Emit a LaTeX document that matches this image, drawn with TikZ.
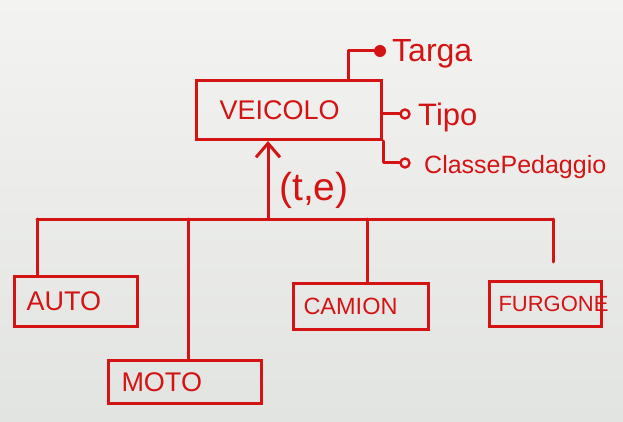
\documentclass[tikz,border=0pt]{standalone}
\usepackage{fontspec}
\setmainfont{Liberation Sans}
\usetikzlibrary{arrows.meta}
\definecolor{ink}{HTML}{D41414}
\definecolor{bgtop}{HTML}{F3F3F1}
\definecolor{bgbot}{HTML}{E2E4E2}
\newcommand{\fs}[1]{\fontsize{#1}{#1}\selectfont}
\begin{document}
\begin{tikzpicture}[x=1pt,y=-1pt,
  ln/.style={draw=ink, line width=3pt, line cap=round, line join=round},
  ent/.style={draw=ink, line width=3pt, rectangle, inner ysep=0pt, inner xsep=12pt,
              anchor=north west, align=left, text=ink},
  lbl/.style={text=ink, inner sep=0pt, anchor=west},
  odot/.style={circle, draw=ink, line width=2.4pt, inner sep=0pt, minimum size=9pt},
  fdot/.style={circle, fill=ink, inner sep=0pt, minimum size=12pt},
]
\shade[top color=bgtop, bottom color=bgbot] (0,0) rectangle (623,422);
\useasboundingbox (0,0) rectangle (623,422);

% entities
\node[ent, minimum width=185pt, minimum height=59pt, text width=139pt, inner xsep=23pt, font=\fs{27}] (veicolo) at (195,79) {VEICOLO};
\node[ent, minimum width=123pt, minimum height=50pt, text width=99pt, font=\fs{27}] (auto) at (13,275) {AUTO};
\node[ent, minimum width=151pt, minimum height=43pt, text width=127pt, inner xsep=13pt, font=\fs{27}] (moto) at (107,359) {MOTO};
\node[ent, minimum width=135pt, minimum height=46pt, text width=115pt, inner xsep=10pt, font=\fs{23.5}] (camion) at (292,282) {CAMION};
\node[ent, minimum width=112pt, minimum height=45pt, text width=94pt, inner xsep=9pt, font=\fs{22}] (furgone) at (488,280) {FURGONE};

% attributes
\node[fdot] (dtarga) at (380,51) {};
\node[lbl, font=\fs{32}] (targa) at (392,54) {Targa};
\node[odot] (otipo) at (405,114) {};
\node[lbl, font=\fs{31}] (tipo) at (418,117) {Tipo};
\node[odot] (ocl) at (405,163) {};
\node[lbl, font=\fs{25}] (classe) at (424,167) {ClassePedaggio};

\coordinate (kt) at (348,51);
\draw[ln] (kt |- veicolo.north) -- (kt) -- (dtarga);
\draw[ln] (veicolo.east |- otipo) -- (otipo);
\draw[ln] (veicolo.south east) -- (veicolo.south east |- ocl) -- (ocl);

% generalization
\coordinate (j1) at (37,219);
\coordinate (j2) at (188,219);
\coordinate (ja) at (268,219);
\coordinate (j3) at (367,219);
\coordinate (j4) at (553,219);
\draw[ln] (j1) -- (j4);
\draw[ln, -{Straight Barb[length=14pt,width=24pt,line width=3pt]}] (ja) -- (ja |- veicolo.south);
\node[lbl, font=\fs{39}] (cov) at (279,190) {(t,e)};
\draw[ln] (j1) -- (j1 |- auto.north);
\draw[ln] (j2) -- (j2 |- moto.north);
\draw[ln] (j3) -- (j3 |- camion.north);
\draw[ln, shorten >=18pt] (j4) -- (j4 |- furgone.north);
\end{tikzpicture}
\end{document}
